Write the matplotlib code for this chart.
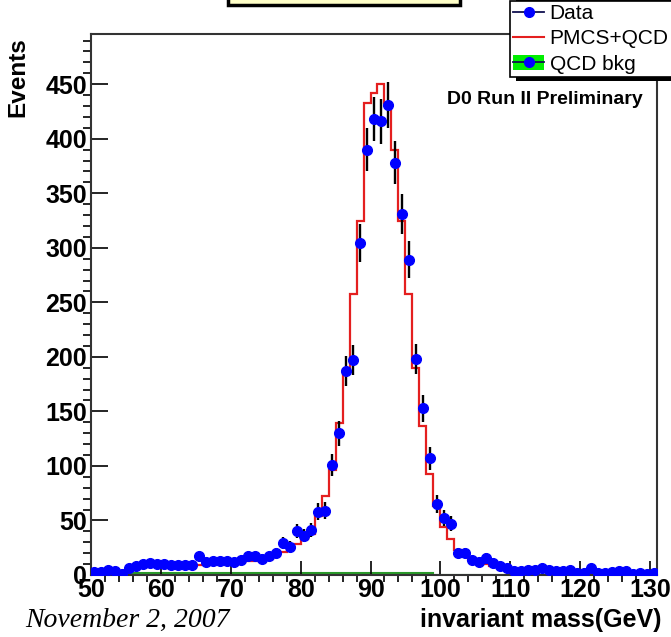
import numpy as np
import matplotlib
matplotlib.use('Agg')
from matplotlib import pyplot as plt
from matplotlib.lines import Line2D
from matplotlib.patches import Patch, Rectangle
from matplotlib.ticker import MultipleLocator

plt.rcParams['font.family'] = ['Liberation Sans', 'DejaVu Sans']

# 1 GeV bins, 50 -> 131 GeV
edges = np.arange(50, 132, 1)
centers = edges[:-1] + 0.5

# Data (events per bin)
data = np.array([3, 3, 5, 4, 1, 6, 8, 10, 11, 10,
                 10, 9, 9, 9, 9, 17, 12, 13, 13, 13,
                 12, 14, 17, 17, 15, 17, 20, 29, 26, 40,
                 36, 41, 58, 59, 101, 130, 187, 197, 304, 390,
                 418, 416, 431, 378, 331, 289, 198, 153, 107, 65,
                 52, 47, 20, 20, 14, 12, 16, 11, 8, 6,
                 4, 4, 5, 5, 6, 5, 4, 4, 5, 2,
                 2, 6, 2, 2, 3, 4, 4, 1, 2, 1,
                 2])

# PMCS+QCD prediction
mc = np.array([1, 2, 2, 3, 4, 5, 6, 7, 8, 8,
               8, 8, 8, 8, 9, 9, 10, 10, 10, 11,
               11, 12, 13, 13, 14, 15, 18, 21, 24, 28,
               33, 38, 54, 72, 96, 139, 188, 258, 325, 433,
               442, 450, 433, 390, 325, 258, 190, 137, 93, 63,
               44, 33, 23, 17, 14, 12, 10, 8, 7, 6,
               5, 5, 4, 4, 4, 3, 3, 3, 3, 2,
               2, 2, 2, 2, 2, 2, 1, 1, 1, 1,
               1])

# QCD background
qcd = np.array([0.8, 0.8, 0.8, 0.8] + [2.0] * 27 + [1.5] * 18 + [0.0] * 32)

fig = plt.figure(figsize=(6.71, 6.37), dpi=100)
ax = fig.add_axes([91 / 671, 1 - 575 / 637, 566 / 671, 541 / 637])

ax.stairs(qcd, edges, fill=True, color='#00e000', zorder=1)
ax.stairs(qcd, edges, color='#2a9a2a', lw=1.5, zorder=1)
ax.stairs(mc, edges, color='#e41f1f', lw=1.6, zorder=2)
ax.errorbar(centers, data, yerr=np.sqrt(data), fmt='o', color='blue',
            ms=7, ecolor='black', elinewidth=1.7, capsize=0, zorder=3)

ax.set_xlim(50, 131)
ax.set_ylim(0, 496)
ax.xaxis.set_major_locator(MultipleLocator(10))
ax.xaxis.set_minor_locator(MultipleLocator(2))
ax.yaxis.set_major_locator(MultipleLocator(50))
ax.yaxis.set_minor_locator(MultipleLocator(10))
ax.tick_params(direction='in', top=False, right=False, labelsize=18, width=1.2)
ax.tick_params(axis='x', which='major', length=10, pad=2)
ax.tick_params(axis='x', which='minor', length=5, width=1.2)
ax.tick_params(axis='y', which='major', length=12, pad=3)
ax.tick_params(axis='y', which='minor', length=6, width=1.2)
for lab in ax.get_xticklabels() + ax.get_yticklabels():
    lab.set_fontweight('bold')
for sp in ax.spines.values():
    sp.set_linewidth(1.5)
    sp.set_color('#333333')

fig.text(18 / 671, 1 - 77 / 637, 'Events', rotation=90, ha='center', va='center',
         fontsize=17.5, fontweight='bold')
fig.text(662 / 671, 1 - 620 / 637, 'invariant mass(GeV)', ha='right', va='center',
         fontsize=18, fontweight='bold')
fig.text(447 / 671, 1 - 100 / 637, 'D0 Run II Preliminary', ha='left', va='center',
         fontsize=14, fontweight='bold')
fig.text(25 / 671, 1 - 620 / 637, 'November 2, 2007', ha='left', va='center',
         fontsize=20, style='italic', family='Liberation Serif')

# title box cut off at the top
fig.patches.append(Rectangle((228 / 671, 1 - 5 / 637), 232 / 671, 0.05,
                             transform=fig.transFigure, facecolor='#ffffc8',
                             edgecolor='black', lw=2.5))

# legend shadow (ROOT style, solid black)
fig.patches.append(Rectangle((516 / 671, 1 - 81 / 637), 0.3, 0.2,
                             transform=fig.transFigure, facecolor='black',
                             edgecolor='none'))

h_data = Line2D([], [], color='#101050', lw=1.3, marker='o', ms=7,
                mfc='blue', mec='blue')
h_mc = Line2D([], [], color='#e41f1f', lw=1.5)
h_qcd = (Patch(facecolor='#00ee00', edgecolor='none'),
         Line2D([], [], color='#101050', lw=1.3, marker='o', ms=7,
                mfc='blue', mec='blue'))
leg = fig.legend([h_data, h_mc, h_qcd], ['Data', 'PMCS+QCD', 'QCD bkg'],
                 loc='upper left', bbox_to_anchor=(510 / 671, 1 - 1 / 637),
                 borderaxespad=0, fontsize=15, frameon=True, fancybox=False,
                 edgecolor='black', framealpha=1, borderpad=0.15,
                 handlelength=1.5, handletextpad=0.25, labelspacing=0.3)
leg.get_frame().set_linewidth(1.2)

plt.savefig('out.png', dpi=100)
